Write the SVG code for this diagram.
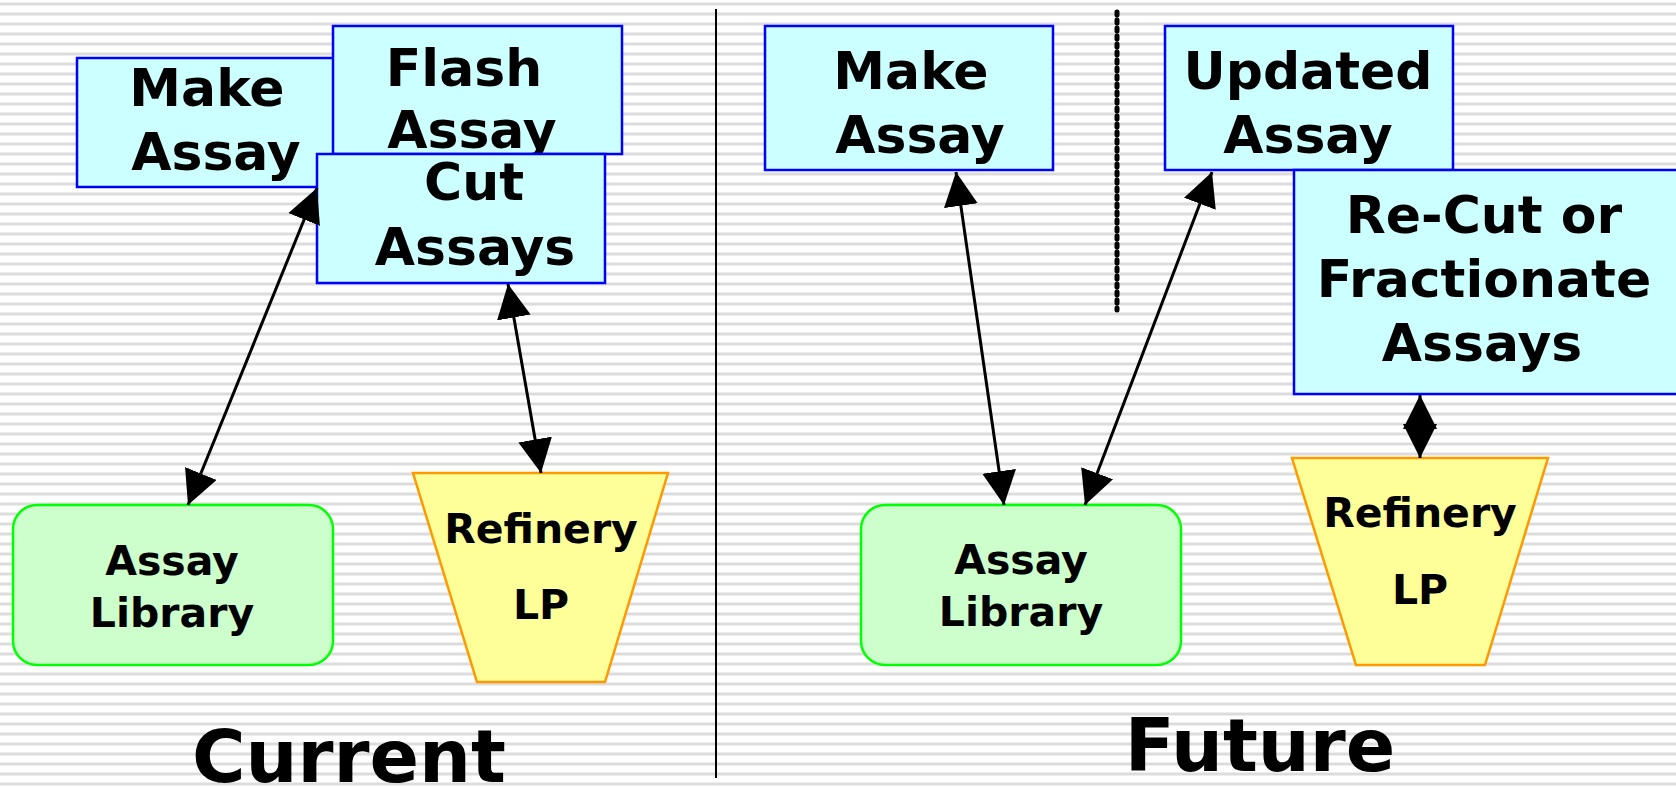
<svg xmlns="http://www.w3.org/2000/svg" width="1676" height="787" viewBox="0 0 1676 787">
<defs>
<pattern id="stripes" x="0" y="0" width="20" height="10" patternUnits="userSpaceOnUse">
<rect x="0" y="0" width="20" height="10" fill="#ffffff"/>
<rect x="0" y="2" width="20" height="1" fill="#eeeeee"/>
<rect x="0" y="3" width="20" height="2" fill="#dcdcdc"/>
<rect x="0" y="5" width="20" height="1" fill="#eeeeee"/>
</pattern>
<marker id="arr" markerUnits="userSpaceOnUse" markerWidth="34" markerHeight="34" refX="34" refY="17" orient="auto-start-reverse" viewBox="0 0 34 34">
<path d="M0,0 L34,17 L0,34 z" fill="#000"/>
</marker>
<style>
.blue{fill:#ccffff;stroke:#0000ff;stroke-width:2.5}
.green{fill:#ccffcc;stroke:#00ff00;stroke-width:2.5}
.yellow{fill:#ffff99;stroke:#ff9900;stroke-width:2.5}
text{font-family:"DejaVu Sans","Verdana","Liberation Sans",sans-serif;font-weight:bold;fill:#000;text-anchor:middle}
.big{font-size:52px}
.mid{font-size:41px}
.lbl{font-size:73px}
.conn line{stroke:#000;stroke-width:3;marker-start:url(#arr);marker-end:url(#arr)}
</style>
</defs>
<rect x="0" y="0" width="1676" height="787" fill="url(#stripes)"/>

<g id="dividers">
<line x1="716" y1="9" x2="716" y2="778" stroke="#000" stroke-width="2"/>
<line x1="1117" y1="12" x2="1117" y2="310" stroke="#000" stroke-width="5" stroke-dasharray="3 5" stroke-linecap="round"/>
</g>

<g id="make-assay-current">
<rect class="blue" x="77" y="58" width="257" height="129"/>
<text class="big" x="207" y="106">Make</text>
<text class="big" x="216" y="170">Assay</text>
</g>
<g id="flash-assay">
<rect class="blue" x="333" y="26" width="289" height="128"/>
<text class="big" x="464" y="86">Flash</text>
<text class="big" x="472" y="148">Assay</text>
</g>
<g id="cut-assays">
<rect class="blue" x="317" y="154" width="288" height="129"/>
<text class="big" x="474" y="200">Cut</text>
<text class="big" x="475" y="265">Assays</text>
</g>
<g id="assay-library-current">
<rect class="green" x="13" y="505" width="320" height="160" rx="24" ry="24"/>
<text class="mid" x="172" y="575">Assay</text>
<text class="mid" x="172" y="627">Library</text>
</g>
<g id="refinery-lp-current">
<polygon class="yellow" points="413,473 668,473 605,682 477,682"/>
<text class="mid" x="541" y="543">Refinery</text>
<text class="mid" x="541" y="619">LP</text>
</g>

<g id="make-assay-future">
<rect class="blue" x="765" y="26" width="288" height="144"/>
<text class="big" x="911" y="89">Make</text>
<text class="big" x="920" y="153">Assay</text>
</g>
<g id="updated-assay">
<rect class="blue" x="1165" y="26" width="288" height="144"/>
<text class="big" x="1308" y="89">Updated</text>
<text class="big" x="1308" y="153">Assay</text>
</g>
<g id="recut-assays">
<rect class="blue" x="1294" y="170" width="390" height="224"/>
<text class="big" x="1484" y="233">Re-Cut or</text>
<text class="big" x="1484" y="297">Fractionate</text>
<text class="big" x="1482" y="361">Assays</text>
</g>
<g id="assay-library-future">
<rect class="green" x="861" y="505" width="320" height="160" rx="24" ry="24"/>
<text class="mid" x="1021" y="574">Assay</text>
<text class="mid" x="1021" y="626">Library</text>
</g>
<g id="refinery-lp-future">
<polygon class="yellow" points="1292,458 1548,458 1485,665 1356,665"/>
<text class="mid" x="1420" y="527">Refinery</text>
<text class="mid" x="1420" y="604">LP</text>
</g>

<g id="connectors" class="conn">
<line x1="317" y1="188" x2="188" y2="505"/>
<line x1="508" y1="284" x2="541" y2="473"/>
<line x1="956" y1="172" x2="1004" y2="505"/>
<line x1="1212" y1="172" x2="1085" y2="505"/>
<line x1="1420" y1="395" x2="1420" y2="458"/>
</g>

<g id="labels">
<text class="lbl" x="349" y="782">Current</text>
<text class="lbl" x="1260" y="771">Future</text>
</g>
</svg>
